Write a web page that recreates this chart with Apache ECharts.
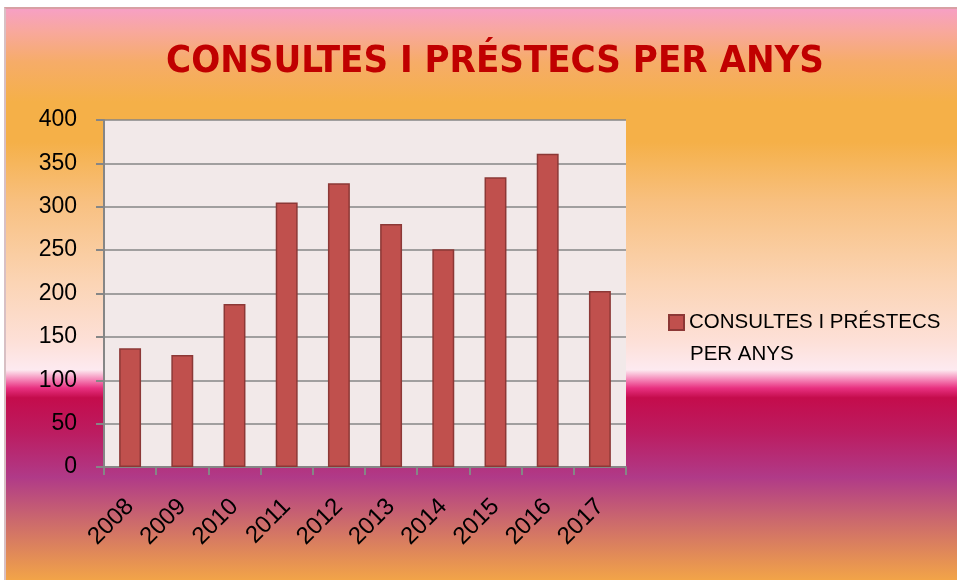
<!DOCTYPE html>
<html>
<head>
<meta charset="utf-8">
<script src="https://cdn.jsdelivr.net/npm/echarts@6/dist/echarts.min.js"></script>
<style>
  body { margin: 0; background: #ffffff; }
  #frame {
    position: absolute; left: 4px; top: 7px; width: 953px; height: 573px;
    border-top: 2px solid #d8a0a4; border-left: 2px solid #d8c0c4;
    box-sizing: border-box;
    background: linear-gradient(to bottom,
      #f7a0c4 0%, #f8a89c 4%, #f6ac68 9.3%, #f5b048 16.3%, #f5b048 23.3%,
      #f8c080 33.8%, #fbd4b4 47.8%, #fde0d8 58.3%, #fdeaf0 63.2%,
      #f480b4 65%, #e83080 66.4%, #c40c4c 68.1%, #bc1c60 74.1%,
      #b03a88 82%, #cc6a6c 89.8%, #f2a448 100%);
  }
  #chart { position: absolute; left: 0; top: 0; width: 957px; height: 580px; }
</style>
</head>
<body>
<div id="frame"></div>
<div id="chart"></div>
<script>
var years = ['2008', '2009', '2010', '2011', '2012', '2013', '2014', '2015', '2016', '2017']
var consultes = [137, 129, 188, 305, 327, 280, 251, 334, 361, 203]
var seriesName = 'CONSULTES I PRÉSTECS PER ANYS'

var myChart = echarts.init(document.getElementById('chart'))
var option = {
  backgroundColor: 'transparent',
  title: {
    text: seriesName,
    left: 490,
    textAlign: 'center',
    top: 38,
    textStyle: {
      color: '#c00000',
      fontFamily: '"DejaVu Sans Condensed", Roboto, sans-serif',
      fontWeight: 'bold',
      fontSize: 38
    }
  },
  legend: {
    left: 668,
    top: 312,
    padding: 0,
    itemWidth: 15,
    itemHeight: 15,
    itemGap: 5,
    icon: 'rect',
    formatter: function () {
      return 'CONSULTES I PRÉSTECS'
    },
    textStyle: {
      color: '#000',
      fontFamily: 'Liberation Sans',
      fontSize: 20.5
    }
  },
  graphic: [
    {
      type: 'text',
      left: 690,
      top: 344,
      style: {
        text: 'PER ANYS',
        fill: '#000',
        font: '20.5px "Liberation Sans"'
      }
    }
  ],
  grid: {
    left: 104,
    right: 331,
    top: 120,
    bottom: 113,
    show: true,
    backgroundColor: '#f2e9e9',
    borderWidth: 0
  },
  xAxis: {
    type: 'category',
    data: years,
    axisLine: { lineStyle: { color: '#868686', width: 2 } },
    axisTick: { show: true, length: 8, lineStyle: { color: '#868686', width: 2 } },
    axisLabel: {
      rotate: 45,
      margin: 36,
      color: '#000',
      fontFamily: 'Liberation Sans',
      fontSize: 24
    }
  },
  yAxis: {
    type: 'value',
    min: 0,
    max: 400,
    interval: 50,
    axisLine: { show: true, lineStyle: { color: '#868686', width: 2 } },
    axisTick: { show: true, length: 8, lineStyle: { color: '#868686', width: 2 } },
    axisLabel: {
      margin: 27,
      color: '#000',
      fontFamily: 'Liberation Sans',
      fontSize: 23
    },
    splitLine: { lineStyle: { color: '#868686', width: 1.5 } }
  },
  series: [
    {
      name: seriesName,
      type: 'bar',
      data: consultes,
      barWidth: '42%',
      itemStyle: {
        color: '#c0504d',
        borderColor: '#8c3836',
        borderWidth: 1.5
      }
    }
  ]
}
myChart.setOption(option)
</script>
</body>
</html>
